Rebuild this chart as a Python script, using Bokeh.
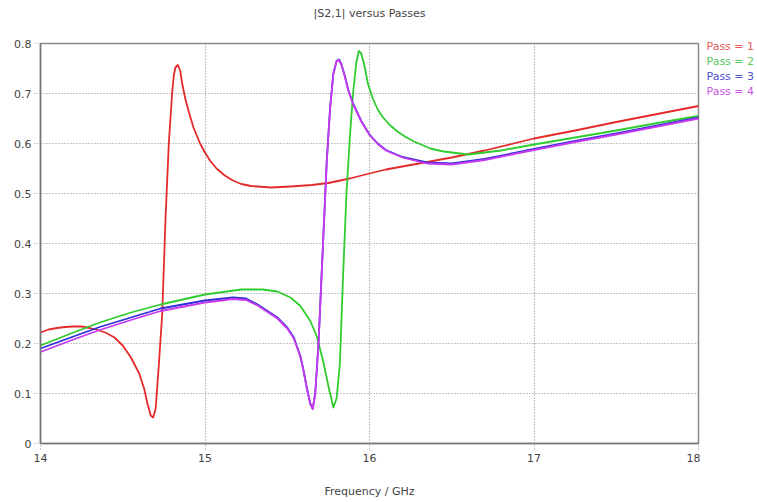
from bokeh.plotting import figure
from bokeh.layouts import row, column
from bokeh.models import Range1d, FixedTicker
from bokeh.core.properties import value
from bokeh.embed import file_html
from bokeh.resources import INLINE

# |S2,1| magnitude per adaptive mesh pass, 14-18 GHz
freq_p1 = [14.0, 14.05, 14.1, 14.15, 14.2, 14.25, 14.3, 14.35, 14.4, 14.45, 14.5,
           14.55, 14.6, 14.63, 14.65, 14.67, 14.685, 14.7, 14.72, 14.74, 14.76,
           14.78, 14.8, 14.81, 14.82, 14.835, 14.85, 14.86, 14.88, 14.9, 14.93,
           14.97, 15.0, 15.03, 15.07, 15.12, 15.17, 15.22, 15.28, 15.4, 15.52,
           15.65, 15.75, 15.88, 16.0, 16.1, 16.3, 16.5, 16.7, 17.0, 17.25, 17.5,
           17.75, 18.0]
s21_p1 = [0.222, 0.228, 0.231, 0.233, 0.234, 0.234, 0.231, 0.227, 0.221, 0.212,
          0.196, 0.172, 0.14, 0.11, 0.08, 0.056, 0.052, 0.07, 0.16, 0.26, 0.45,
          0.6, 0.7, 0.735, 0.752, 0.757, 0.745, 0.722, 0.69, 0.665, 0.632, 0.6,
          0.582, 0.566, 0.55, 0.536, 0.526, 0.519, 0.515, 0.512, 0.514, 0.517,
          0.521, 0.53, 0.54, 0.548, 0.56, 0.572, 0.586, 0.61, 0.626, 0.643, 0.659,
          0.675]

freq_p2 = [14.0, 14.2, 14.36, 14.55, 14.73, 15.0, 15.22, 15.35, 15.44, 15.52,
           15.58, 15.64, 15.68, 15.72, 15.75, 15.78, 15.8, 15.82, 15.84, 15.86,
           15.88, 15.9, 15.92, 15.935, 15.95, 15.97, 15.99, 16.02, 16.05, 16.08,
           16.12, 16.17, 16.22, 16.27, 16.37, 16.45, 16.6, 16.8, 17.0, 17.25,
           17.5, 17.75, 18.0]
s21_p2 = [0.196, 0.222, 0.242, 0.262, 0.278, 0.298, 0.308, 0.308, 0.304, 0.292,
          0.275, 0.245, 0.214, 0.162, 0.115, 0.072, 0.09, 0.16, 0.34, 0.5, 0.61,
          0.70, 0.762, 0.785, 0.78, 0.755, 0.72, 0.69, 0.668, 0.653, 0.638,
          0.624, 0.613, 0.604, 0.59, 0.584, 0.578, 0.586, 0.598, 0.612, 0.626,
          0.641, 0.655]

freq_p3 = [14.0, 14.2, 14.36, 14.55, 14.73, 15.0, 15.17, 15.25, 15.32, 15.44,
           15.5, 15.54, 15.58, 15.6, 15.62, 15.64, 15.655, 15.67, 15.69, 15.71,
           15.74, 15.76, 15.78, 15.8, 15.815, 15.83, 15.85, 15.87, 15.9, 15.95,
           16.0, 16.05, 16.1, 16.2, 16.35, 16.5, 16.7, 17.0, 17.25, 17.5, 17.75,
           18.0]
s21_p3 = [0.19, 0.214, 0.233, 0.252, 0.27, 0.286, 0.292, 0.29, 0.278, 0.252,
          0.232, 0.212, 0.175, 0.145, 0.11, 0.08, 0.07, 0.1, 0.2, 0.346, 0.564,
          0.67, 0.74, 0.765, 0.768, 0.758, 0.735, 0.708, 0.68, 0.645, 0.618, 0.6,
          0.587, 0.573, 0.562, 0.56, 0.569, 0.589, 0.605, 0.62, 0.636, 0.652]

freq_p4 = [14.0, 14.2, 14.36, 14.55, 14.73, 15.0, 15.17, 15.25, 15.32, 15.44,
           15.5, 15.54, 15.58, 15.6, 15.62, 15.64, 15.655, 15.67, 15.69, 15.71,
           15.74, 15.76, 15.78, 15.8, 15.815, 15.83, 15.85, 15.87, 15.9, 15.95,
           16.0, 16.05, 16.1, 16.2, 16.35, 16.5, 16.7, 17.0, 17.25, 17.5, 17.75,
           18.0]
s21_p4 = [0.183, 0.208, 0.227, 0.247, 0.265, 0.282, 0.289, 0.287, 0.276, 0.25,
          0.23, 0.21, 0.173, 0.143, 0.108, 0.079, 0.069, 0.099, 0.199, 0.345,
          0.562, 0.668, 0.738, 0.764, 0.767, 0.757, 0.734, 0.707, 0.679, 0.644,
          0.617, 0.599, 0.586, 0.572, 0.56, 0.558, 0.567, 0.587, 0.603, 0.618,
          0.634, 0.65]

x_ticks = [14, 15, 16, 17, 18]
y_ticks = [0, 0.1, 0.2, 0.3, 0.4, 0.5, 0.6, 0.7, 0.8]

title_text = "|S2,1| versus Passes"
pass_labels = ["Pass = 1", "Pass = 2", "Pass = 3", "Pass = 4"]
line_colors = ["#e52a2a", "#2fcc2f", "#2f2fd8", "#c83af0"]
text_colors = ["#e55a5a", "#5acb5a", "#5050d0", "#c855e8"]

FONT = "DejaVu Sans"
TEXT_GREY = "#444444"
WIDTH, HEIGHT = 757, 502
HEADER_H = 26          # strip holding the title
PLOT_W = 700           # main figure width; captions use the rest
FRAME_TOP = 43         # canvas pixels
FRAME_BOTTOM = 443


def text_strip(width, height, y_top):
    """Axis-less figure whose data coordinates are canvas pixels (y top-down)."""
    f = figure(width=width, height=height, output_backend="svg", toolbar_location=None,
               x_range=Range1d(0, width), y_range=Range1d(y_top + height, y_top),
               min_border=0, outline_line_color=None, frame_align=False)
    f.axis.visible = False
    f.grid.visible = False
    return f


# Title strip
header = text_strip(WIDTH, HEADER_H, 0)
header.text(x=[369], y=[13], text=[title_text], text_color=TEXT_GREY,
            text_font=value(FONT), text_font_size="11px",
            text_align="center", text_baseline="middle")

# Main chart
main_h = HEIGHT - HEADER_H
p = figure(width=PLOT_W, height=main_h, output_backend="svg", toolbar_location=None,
           x_range=Range1d(14, 18), y_range=Range1d(0, 0.8),
           min_border_left=40, min_border_right=2,
           min_border_top=FRAME_TOP - HEADER_H, min_border_bottom=HEIGHT - FRAME_BOTTOM)
p.background_fill_color = "white"
p.border_fill_color = "white"
p.outline_line_color = "#8a8a8a"
p.outline_line_width = 1.5

for ax, ticks in ((p.xaxis, x_ticks), (p.yaxis, y_ticks)):
    ax.ticker = FixedTicker(ticks=ticks)
    ax.axis_line_color = "#777777"
    ax.axis_line_width = 1.5
    ax.major_tick_line_color = "#9a9a9a"
    ax.major_tick_line_dash = "1 2"
    ax.major_tick_out = 6
    ax.major_tick_in = 0
    ax.minor_tick_line_color = None
    ax.major_label_text_font = FONT
    ax.major_label_text_font_size = "11px"
    ax.major_label_text_color = TEXT_GREY

p.yaxis.major_label_overrides = {0: "0"}
p.xaxis.major_label_standoff = 4
p.yaxis.major_label_standoff = 3
p.xaxis.axis_label = "Frequency / GHz"
p.xaxis.axis_label_text_font = FONT
p.xaxis.axis_label_text_font_size = "11px"
p.xaxis.axis_label_text_font_style = "normal"
p.xaxis.axis_label_text_color = TEXT_GREY
p.xaxis.axis_label_standoff = 20

for g in (p.xgrid, p.ygrid):
    g.grid_line_color = "#8c8c8c"
    g.grid_line_dash = "1 2"
    g.grid_line_width = 1.2

series = [(freq_p1, s21_p1), (freq_p2, s21_p2), (freq_p3, s21_p3), (freq_p4, s21_p4)]
for (f, s), c in zip(series, line_colors):
    p.line(f, s, line_color=c, line_width=1.8, line_join="round")

# Coloured pass captions to the right of the frame
side = text_strip(WIDTH - PLOT_W, main_h, HEADER_H)
side.text(x=[6] * len(pass_labels), y=[46 + 15 * i for i in range(len(pass_labels))],
          text=pass_labels, text_color=text_colors, text_font=value(FONT),
          text_font_size="11px", text_align="left", text_baseline="middle")

layout = column(header, row(p, side, spacing=0), spacing=0)
open("out.html", "w").write(file_html(layout, INLINE))
